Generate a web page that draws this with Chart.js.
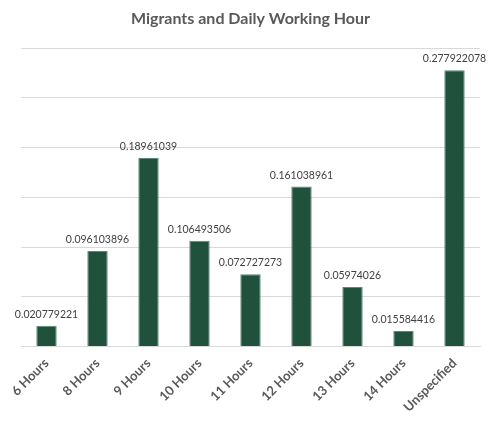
<!DOCTYPE html>
<html>
<head>
<meta charset="utf-8">
<script src="https://cdn.jsdelivr.net/npm/chart.js@4/dist/chart.umd.min.js"></script>
<style>
  html, body { margin: 0; padding: 0; background: #fff; }
  #wrap { width: 488px; height: 422px; }
</style>
</head>
<body>
<div id="wrap"><canvas id="chart"></canvas></div>
<script>
const categories = ["6 Hours", "8 Hours", "9 Hours", "10 Hours", "11 Hours", "12 Hours", "13 Hours", "14 Hours", "Unspecified"];
const shares = [0.020779221, 0.096103896, 0.18961039, 0.106493506, 0.072727273, 0.161038961, 0.05974026, 0.015584416, 0.277922078];
const valueLabels = ["0.020779221", "0.096103896", "0.18961039", "0.106493506", "0.072727273", "0.161038961", "0.05974026", "0.015584416", "0.277922078"];

// draws the value text above each bar
const barValues = {
  id: "barValues",
  afterDatasetsDraw(chart) {
    const ctx = chart.ctx;
    const meta = chart.getDatasetMeta(0);
    ctx.save();
    ctx.font = "10.5px Lato, 'Open Sans', sans-serif";
    ctx.fillStyle = "#404040";
    ctx.textAlign = "center";
    ctx.textBaseline = "bottom";
    meta.data.forEach((bar, i) => {
      ctx.fillText(valueLabels[i], bar.x, bar.y - 6);
    });
    ctx.restore();
  }
};

new Chart(document.getElementById("chart").getContext("2d"), {
  type: "bar",
  data: {
    labels: categories,
    datasets: [{
      data: shares,
      backgroundColor: "#1f513d",
      borderColor: "#5b8878",
      borderWidth: 1,
      categoryPercentage: 1,
      barPercentage: 0.4
    }]
  },
  options: {
    responsive: true,
    maintainAspectRatio: false,
    animation: false,
    layout: { padding: { left: 21, right: 8, top: 5, bottom: 6 } },
    plugins: {
      legend: { display: false },
      tooltip: { enabled: false },
      title: {
        display: true,
        text: "Migrants and Daily Working Hour",
        color: "#595959",
        font: { family: "Lato, 'Open Sans', sans-serif", size: 16, weight: "bold" },
        padding: { top: 4, bottom: 20 }
      }
    },
    scales: {
      x: {
        grid: { display: false },
        border: { color: "#d9d9d9" },
        ticks: {
          minRotation: 45,
          maxRotation: 45,
          padding: 1,
          color: "#595959",
          font: { family: "Lato, 'Open Sans', sans-serif", size: 13, weight: "bold" }
        }
      },
      y: {
        min: 0,
        max: 0.3,
        ticks: { stepSize: 0.05, display: false },
        grid: { color: "#d9d9d9", drawTicks: false },
        border: { display: false }
      }
    }
  },
  plugins: [barValues]
});
</script>
</body>
</html>
